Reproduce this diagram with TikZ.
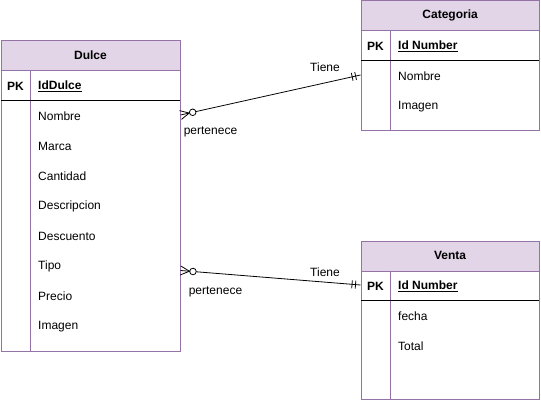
\documentclass[tikz,border=0pt]{standalone}
\usepackage{fontspec}
\setmainfont{Liberation Sans}
\usetikzlibrary{calc}
\definecolor{hdrfill}{HTML}{E1D5E7}
\definecolor{hdrline}{HTML}{9673A6}
\newcommand\erManyEnd[2]{%
  \coordinate (tmpA) at ($(#1)!9pt!(#2)$);
  \draw[conn] ($(#1)!4.5pt!90:(#2)$) -- (tmpA) -- ($(#1)!4.5pt!-90:(#2)$);
  \draw[conn] (#1) -- (tmpA);
  \draw[conn] ($(#1)!12.5pt!(#2)$) circle (3.3pt);
}
\newcommand\erOneEnd[2]{%
  \coordinate (tmpB) at ($(#1)!5pt!(#2)$);
  \coordinate (tmpC) at ($(#1)!8.5pt!(#2)$);
  \draw[conn] ($(tmpB)!4pt!90:(#1)$) -- ($(tmpB)!4pt!-90:(#1)$);
  \draw[conn] ($(tmpC)!4pt!90:(#1)$) -- ($(tmpC)!4pt!-90:(#1)$);
}
\begin{document}
\begin{tikzpicture}[x=1pt,y=-1pt,font=\fontsize{12}{14}\selectfont,
  tbl/.style={draw=hdrline,fill=white,anchor=north west,inner sep=0,minimum width=179.6pt},
  hdr/.style={draw=hdrline,fill=hdrfill,anchor=north west,inner sep=0,minimum width=179.6pt,minimum height=30pt,font=\fontsize{12}{14}\selectfont\bfseries},
  pk/.style={font=\fontsize{12}{14}\selectfont\bfseries},
  fld/.style={anchor=west,inner sep=0},
  conn/.style={draw=black,line width=0.8pt},
  lbl/.style={inner sep=0}]
\useasboundingbox (0,0) rectangle (541,401);

% ---------- Dulce ----------
\node[tbl,minimum height=310pt] (dulce) at (0.5,40.5) {};
\node[hdr] (dulceH) at (0.5,40.5) {\raisebox{-1pt}{Dulce}};
\draw[hdrline] (30.5,70.5) -- (30.5,350.5);
\draw[black] (0.5,100.5) -- (180.1,100.5);
\node[pk] (dulcePK) at (15.5,86.5) {PK};
\node[fld,font=\fontsize{12}{14}\selectfont\bfseries] (dId) at (38,86.5) {\underline{IdDulce}};
\node[fld] (dNombre) at (38,116.5) {Nombre};
\node[fld] (dMarca) at (38,146.5) {Marca};
\node[fld] (dCantidad) at (38,176.5) {Cantidad};
\node[fld] (dDesc) at (38,206.5) {Descripcion};
\node[fld] (dDescu) at (38,236.5) {Descuento};
\node[fld] (dTipo) at (38,266.5) {Tipo};
\node[fld] (dPrecio) at (38,296.5) {Precio};
\node[fld] (dImagen) at (38,326.5) {Imagen};

% ---------- Categoria ----------
\node[tbl,minimum width=178.8pt,minimum height=129.6pt] (cat) at (360.5,0.5) {};
\node[hdr,minimum width=178.8pt] (catH) at (360.5,0.5) {\raisebox{-1pt}{Categoria}};
\draw[hdrline] (390.5,30.5) -- (390.5,130.1);
\draw[black] (360.5,60.5) -- (539.3,60.5);
\node[pk] (catPK) at (375.5,46.5) {PK};
\node[fld,font=\fontsize{12}{14}\selectfont\bfseries] (cId) at (398,46.5) {\underline{Id Number}};
\node[fld] (cNombre) at (398,76.5) {Nombre};
\node[fld] (cImagen) at (398,106.5) {Imagen};

% ---------- Venta ----------
\node[tbl,minimum width=178.8pt,minimum height=158.8pt] (venta) at (360.5,240.5) {};
\node[hdr,minimum width=178.8pt] (ventaH) at (360.5,240.5) {\raisebox{-1pt}{Venta}};
\draw[hdrline] (390.5,270.5) -- (390.5,399.3);
\draw[black] (360.5,300.5) -- (539.3,300.5);
\node[pk] (ventaPK) at (375.5,286.5) {PK};
\node[fld,font=\fontsize{12}{14}\selectfont\bfseries] (vId) at (398,286.5) {\underline{Id Number}};
\node[fld] (vFecha) at (398,316.5) {fecha};
\node[fld] (vTotal) at (398,346.5) {Total};

% ---------- connectors ----------
\coordinate (c1a) at (dulce.east |- 0,115);
\coordinate (c1b) at (cat.west |- 0,75);
\draw[conn] ($(c1a)!15.8pt!(c1b)$) -- (c1b);
\erManyEnd{c1a}{c1b}
\erOneEnd{c1b}{c1a}
\node[lbl] (t1) at (325,67) {Tiene};
\node[lbl] (p1) at (210.5,132) {pertenece};

\coordinate (c2a) at (dulce.east |- 0,270.5);
\coordinate (c2b) at (venta.west |- 0,285);
\draw[conn] ($(c2a)!15.8pt!(c2b)$) -- (c2b);
\erManyEnd{c2a}{c2b}
\erOneEnd{c2b}{c2a}
\node[lbl] (t2) at (325,272) {Tiene};
\node[lbl] (p2) at (215.5,292) {pertenece};
\end{tikzpicture}
\end{document}
